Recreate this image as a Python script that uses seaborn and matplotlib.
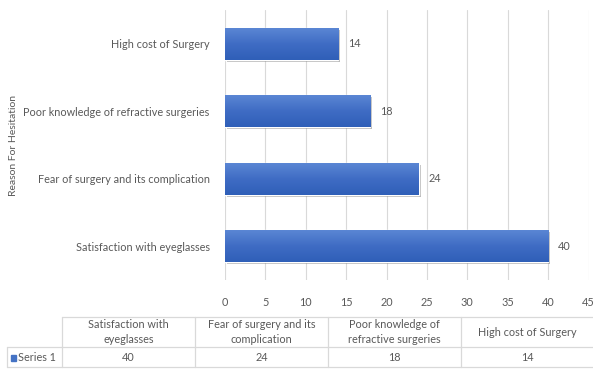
import numpy as np
import pandas as pd
import matplotlib
matplotlib.use("Agg")
import matplotlib.pyplot as plt
from matplotlib.lines import Line2D
from matplotlib.patches import Rectangle
import matplotlib.patheffects as pe
import seaborn as sns

# Reasons for hesitation (table order) and their counts
reasons = [
    "Satisfaction with eyeglasses",
    "Fear of surgery and its complication",
    "Poor knowledge of refractive surgeries",
    "High cost of Surgery",
]
counts = [40, 24, 18, 14]
table_headers = [
    "Satisfaction with\neyeglasses",
    "Fear of surgery and its\ncomplication",
    "Poor knowledge of\nrefractive surgeries",
    "High cost of Surgery",
]
series_name = "Series 1"
x_ticks = [0, 5, 10, 15, 20, 25, 30, 35, 40, 45]

sns.set_theme(style="white")
plt.rcParams["font.family"] = ["Lato", "DejaVu Sans"]

TEXT = "#595959"
GRID = "#d9d9d9"
BAR = "#4472C4"

W, H = 593, 371
fig = plt.figure(figsize=(W / 100, H / 100), dpi=100)
ax = fig.add_axes([225 / W, 1 - 280 / H, (588.5 - 225) / W, (280 - 10) / H])

# Bars drawn top-to-bottom in reverse table order
df = pd.DataFrame({"reason": reasons[::-1], "count": counts[::-1]})
sns.barplot(data=df, x="count", y="reason", orient="h", color=BAR,
            width=0.47, saturation=1, ax=ax, zorder=3)

# Soft shadow and vertical gradient on each bar
cmap = matplotlib.colors.LinearSegmentedColormap.from_list(
    "barg", ["#5a86d4", "#3f6cc4", "#2f5fb8"])
for patch in ax.patches:
    patch.set_path_effects([pe.SimplePatchShadow(offset=(1.2, -1.5), alpha=0.4,
                                                 shadow_rgbFace="#555555"),
                            pe.Normal()])
    x0, y0 = patch.get_x(), patch.get_y()
    w, h = patch.get_width(), patch.get_height()
    grad = np.linspace(0, 1, 64).reshape(-1, 1)
    im = ax.imshow(grad, extent=(x0, x0 + w, y0 + h, y0), cmap=cmap,
                   aspect="auto", zorder=3.5, interpolation="bicubic")
    im.set_clip_path(patch)

for cont in ax.containers:
    ax.bar_label(cont, labels=[f"{v:g}" for v in cont.datavalues], padding=7,
                 color=TEXT, fontsize=7.8)

ax.set_xlim(0, 45)
ax.set_ylim(3.5, -0.5)
ax.set_xticks(x_ticks)
ax.set_xticklabels([str(t) for t in x_ticks])
ax.xaxis.grid(True, color=GRID, linewidth=0.8, zorder=0)
ax.yaxis.grid(False)
for s in ax.spines.values():
    s.set_visible(False)
ax.tick_params(axis="x", length=0, pad=12, labelsize=7.8, labelcolor=TEXT)
ax.tick_params(axis="y", length=0, pad=11, labelsize=7.8, labelcolor=TEXT)
ax.set_xlabel("")
ax.set_ylabel("Reason For Hesitation", color=TEXT, fontsize=7.5, labelpad=2)
ax.yaxis.set_label_coords(-(225 - 18) / (588.5 - 225), 0.5)

# Data table beneath the chart
def fx(px):
    return px / W

def fy(py):
    return 1 - py / H

col_edges = [62, 195, 328, 461, 594]
top, mid, bot = 317, 347, 367
left = 7
lines = [
    ((col_edges[0], col_edges[-1]), (top, top)),
    ((left, col_edges[-1]), (mid, mid)),
    ((left, col_edges[-1]), (bot, bot)),
    ((left, left), (mid, bot)),
]
for xe in col_edges[:-1]:
    lines.append(((xe, xe), (top, bot)))
for xs, ys in lines:
    fig.add_artist(Line2D([fx(xs[0]), fx(xs[1])], [fy(ys[0]), fy(ys[1])],
                          color=GRID, linewidth=0.9))

for i, (hdr, val) in enumerate(zip(table_headers, counts)):
    cx = (col_edges[i] + col_edges[i + 1]) / 2
    fig.text(fx(cx), fy((top + mid) / 2), hdr, ha="center", va="center",
             color=TEXT, fontsize=7.8, linespacing=1.45)
    fig.text(fx(cx), fy((mid + bot) / 2 + 0.5), f"{val}", ha="center", va="center",
             color=TEXT, fontsize=7.8)

fig.add_artist(Rectangle((fx(11), fy(361)), 5 / W, 6 / H, color=BAR,
                         transform=fig.transFigure))
fig.text(fx(18), fy((mid + bot) / 2 + 0.5), series_name, ha="left", va="center",
         color=TEXT, fontsize=7.8)

fig.savefig("out.png", dpi=100, facecolor="white")
